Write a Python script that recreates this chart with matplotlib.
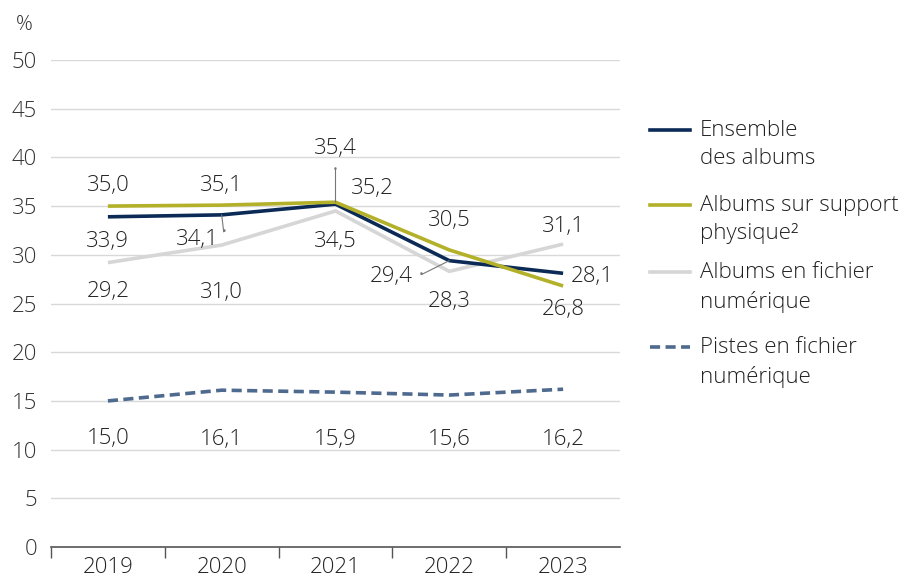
import matplotlib.pyplot as plt
from matplotlib.lines import Line2D

plt.rcParams['font.family'] = ['Open Sans', 'DejaVu Sans']

years = ['2019', '2020', '2021', '2022', '2023']
ensemble = [33.9, 34.1, 35.2, 29.4, 28.1]
physique = [35.0, 35.1, 35.4, 30.5, 26.8]
numerique = [29.2, 31.0, 34.5, 28.3, 31.1]
pistes = [15.0, 16.1, 15.9, 15.6, 16.2]

names = ['Ensemble\ndes albums', 'Albums sur support\nphysique²',
         'Albums en fichier\nnumérique', 'Pistes en fichier\nnumérique']
colors = ['#0b2a55', '#b3b029', '#d6d6d6', '#4f6a8f']
styles = ['-', '-', '-', (0, (2.8, 1.5))]

# label offsets in pixels (dx, dy) for each point, per series
offsets = [
    [(0, -25), (-24, -25), (37, 16), (-58, -16), (29, -3)],
    [(0, 21), (0, 20), (0, 54), (0, 29), (0, -24)],
    [(0, -29), (0, -47), (0, -31), (0, -30), (0, 18)],
    [(0, -38), (0, -49), (0, -47), (0, -44), (0, -50)],
]

fig = plt.figure(figsize=(9.15, 5.8), dpi=100)
ax = fig.add_axes([51 / 915, 1 - 547 / 580, 569 / 915, 487 / 580])

x = list(range(len(years)))
series = [ensemble, physique, numerique, pistes]
order = [2, 0, 1, 3]
for i in order:
    ax.plot(x, series[i], color=colors[i], lw=2.6, ls=styles[i],
            solid_capstyle='butt', zorder=3)

for i, s in enumerate(series):
    for j, v in enumerate(s):
        dx, dy = offsets[i][j]
        ax.annotate(f'{v:.1f}'.replace('.', ','), (j, v),
                    xytext=(dx, dy), textcoords='offset pixels',
                    ha='center', va='center', fontsize=16, color='#222222',
                    fontweight='light', zorder=5)

# leader lines with a small dot at the label end
leaders = [((2, physique[2]), (0, 33)),
           ((1, ensemble[1]), (2, -17)),
           ((3, ensemble[3]), (-28, -14))]
for xy, off in leaders:
    ax.annotate('', xy, xytext=off, textcoords='offset pixels',
                arrowprops=dict(arrowstyle='-', color='#777777', lw=0.8,
                                shrinkA=0, shrinkB=0))
    ax.annotate('\u2022', xy, xytext=off, textcoords='offset pixels',
                ha='center', va='center', fontsize=6, color='#777777',
                family='DejaVu Sans')

ax.set_xlim(-0.5, len(years) - 0.5)
ax.set_ylim(0, 50)
ax.set_yticks(range(0, 51, 5))
ax.set_xticks(x)
ax.set_xticklabels(years)
ax.set_xticks([k - 0.5 for k in range(len(years) + 1)][:-1], minor=True)
ax.tick_params(axis='x', which='major', length=0, pad=7, labelsize=16,
               labelcolor='#222222')
ax.tick_params(axis='x', which='minor', length=8, color='#555555', width=1)
ax.tick_params(axis='y', length=0, pad=10, labelsize=16, labelcolor='#333333')
for lab in ax.get_xticklabels() + ax.get_yticklabels():
    lab.set_fontweight('light')
ax.grid(axis='y', color='#d9d9d9', lw=1)
ax.set_axisbelow(True)
for sp in ['top', 'right', 'left']:
    ax.spines[sp].set_visible(False)
ax.spines['bottom'].set_color('#555555')
ax.spines['bottom'].set_linewidth(1.2)

fig.text(16 / 915, 1 - 25 / 580, '%', fontsize=15, color='#333333',
         va='center', fontweight='light')

# legend
leg_y = [130, 205, 272, 347]
for i in range(4):
    y = 1 - leg_y[i] / 580
    fig.add_artist(Line2D([650 / 915, 690 / 915], [y, y], color=colors[i],
                          lw=2.6, ls=styles[i], transform=fig.transFigure))
    fig.text(700 / 915, y + 10 / 580, names[i], fontsize=16, color='#222222',
             va='top', ha='left', linespacing=1.45, fontweight='light')

fig.savefig('out.png', dpi=100)
